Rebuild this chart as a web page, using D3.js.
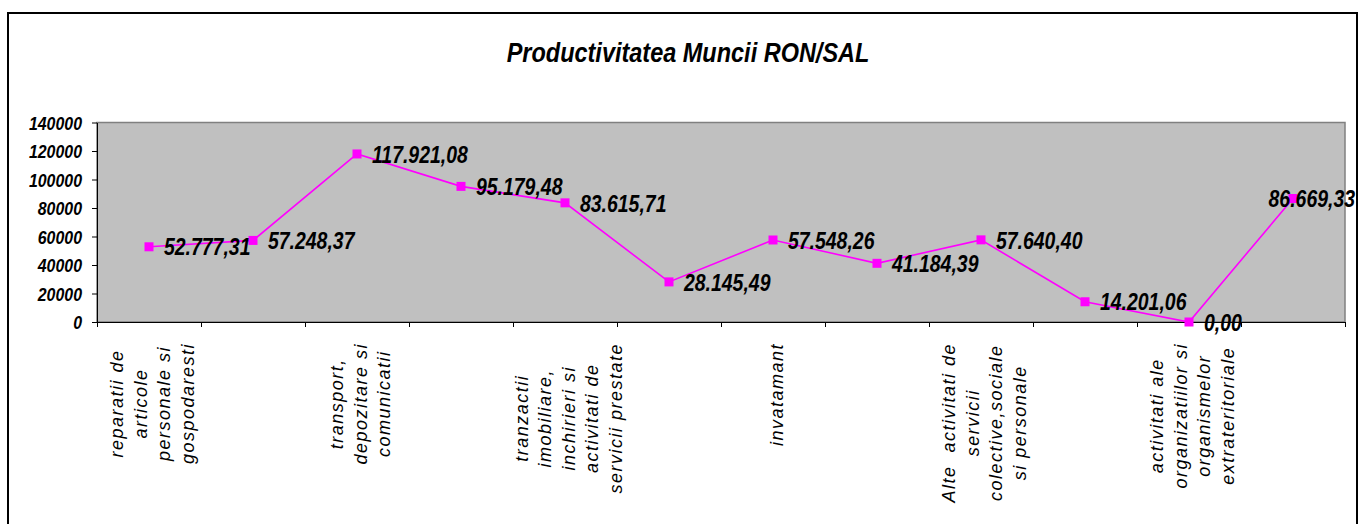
<!DOCTYPE html>
<html>
<head>
<meta charset="utf-8">
<script src="https://cdn.jsdelivr.net/npm/d3@7"></script>
<style>
  body { margin: 0; background: #fff; }
  text { font-family: "Liberation Sans", Arial, sans-serif; }
</style>
</head>
<body>
<div id="chart"></div>
<script>
// data
var categories = [
  "reparatii de\narticole\npersonale si\ngospodaresti",
  "hoteluri si restaurante",
  "transport,\ndepozitare si\ncomunicatii",
  "intermedieri financiare",
  "tranzactii\nimobiliare,\ninchirieri si\nactivitati de\nservicii prestate",
  "administratie publica si aparare",
  "invatamant",
  "sanatate si asistenta sociala",
  "Alte  activitati de\nservicii\ncolective,sociale\nsi personale",
  "activitati ale gospodariilor private",
  "activitati ale\norganizatiilor si\norganismelor\nextrateritoriale",
  "Total"
];
var values = [52777.31, 57248.37, 117921.08, 95179.48, 83615.71, 28145.49,
              57548.26, 41184.39, 57640.40, 14201.06, 0.00, 86669.33];
var yTicks = [0, 20000, 40000, 60000, 80000, 100000, 120000, 140000];
var chartTitle = "Productivitatea Muncii RON/SAL";

var w = 1360, h = 524;
var plot = {left: 97, right: 1345, top: 122.5, bottom: 322};
var lineColor = "#FF00FF";

var ro = d3.formatLocale({decimal: ",", thousands: ".", grouping: [3], currency: ["", ""]});
var fmt = ro.format(",.2f");

var svg = d3.select("#chart")
  .append("svg")
  .attr("width", w)
  .attr("height", h);

// outer frame
svg.append("rect")
  .attr("x", 8).attr("y", 13)
  .attr("width", 1349).attr("height", 540)
  .attr("fill", "#fff")
  .attr("stroke", "#000")
  .attr("stroke-width", 2);

// title
svg.append("text")
  .attr("transform", "translate(688,62) scale(0.87,1)")
  .attr("text-anchor", "middle")
  .style("font-size", "27px")
  .style("font-weight", "bold")
  .style("font-style", "italic")
  .text(chartTitle);

var x = d3.scaleBand()
  .domain(d3.range(categories.length))
  .range([plot.left, plot.right])
  .padding(0);

var xEdge = d3.scaleLinear()
  .domain([0, categories.length])
  .range([plot.left, plot.right]);

var y = d3.scaleLinear()
  .domain([0, 140000])
  .range([plot.bottom, plot.top]);

// plot area
svg.append("rect")
  .attr("x", plot.left).attr("y", plot.top)
  .attr("width", plot.right - plot.left)
  .attr("height", plot.bottom - plot.top)
  .attr("fill", "#C0C0C0")
  .attr("stroke", "#808080")
  .attr("stroke-width", 1.5);

// y axis
var yAxis = svg.append("g")
  .attr("transform", "translate(" + plot.left + ",0)")
  .call(d3.axisLeft(y).tickValues(yTicks).tickSize(5).tickSizeOuter(0).tickFormat(d3.format("d")));
yAxis.select(".domain").attr("stroke", "#000");
yAxis.selectAll(".tick line").attr("stroke", "#000");
yAxis.selectAll(".tick text")
  .attr("x", -15 / 0.86)
  .attr("dy", "0.36em")
  .attr("transform", "scale(0.86,1)")
  .attr("fill", "#000")
  .style("font-size", "18.5px")
  .style("font-weight", "bold")
  .style("font-style", "italic")
  .style("font-family", '"Liberation Sans", Arial, sans-serif');

// x axis: ticks on the category edges
var xAxis = svg.append("g")
  .attr("transform", "translate(0," + plot.bottom + ")")
  .call(d3.axisBottom(xEdge).tickValues(d3.range(categories.length + 1)).tickSize(5).tickSizeOuter(0).tickFormat(""));
xAxis.select(".domain").attr("stroke", "#000");
xAxis.selectAll(".tick line").attr("stroke", "#000");

// category labels, every other one shown, rotated
var lh = 23.5;
categories.forEach(function(c, i) {
  if (i % 2 !== 0) return;
  var lines = c.split("\n");
  var g = svg.append("g")
    .attr("transform", "translate(" + (x(i) + x.bandwidth() / 2 + 3) + ",343) rotate(-90)");
  var ts = lines.map(function(l, j) {
    return g.append("text")
      .attr("y", (j - (lines.length - 1) / 2) * lh + 6.5)
      .attr("text-anchor", "middle")
      .style("font-size", "18px")
      .style("font-style", "italic")
      .style("letter-spacing", "1.5px")
      .style("white-space", "pre")
      .text(l);
  });
  var L = d3.max(ts, function(t) { return t.node().getComputedTextLength(); });
  ts.forEach(function(t) { t.attr("x", -L / 2); });
});

// line
var line = d3.line()
  .x(function(d, i) { return x(i) + x.bandwidth() / 2; })
  .y(function(d) { return y(d); });

svg.append("path")
  .datum(values)
  .attr("d", line)
  .attr("fill", "none")
  .attr("stroke", lineColor)
  .attr("stroke-width", 1.6);

svg.selectAll("rect.marker")
  .data(values)
  .enter().append("rect")
  .attr("class", "marker")
  .attr("x", function(d, i) { return x(i) + x.bandwidth() / 2 - 4.5; })
  .attr("y", function(d) { return y(d) - 4.5; })
  .attr("width", 9)
  .attr("height", 9)
  .attr("fill", lineColor);

// data labels
var sx = 0.81;
values.forEach(function(d, i) {
  var cx = x(i) + x.bandwidth() / 2;
  var g = svg.append("g");
  var t = g.append("text")
    .attr("dy", "0.36em")
    .attr("transform", "scale(" + sx + ",1)")
    .style("font-size", "24px")
    .style("font-weight", "bold")
    .style("font-style", "italic")
    .attr("fill", "#000")
    .text(fmt(d));
  var wd = t.node().getComputedTextLength() * sx;
  var lx = Math.min(cx + 15, 1355 - wd);
  g.attr("transform", "translate(" + lx + "," + y(d) + ")");
});
</script>
</body>
</html>
